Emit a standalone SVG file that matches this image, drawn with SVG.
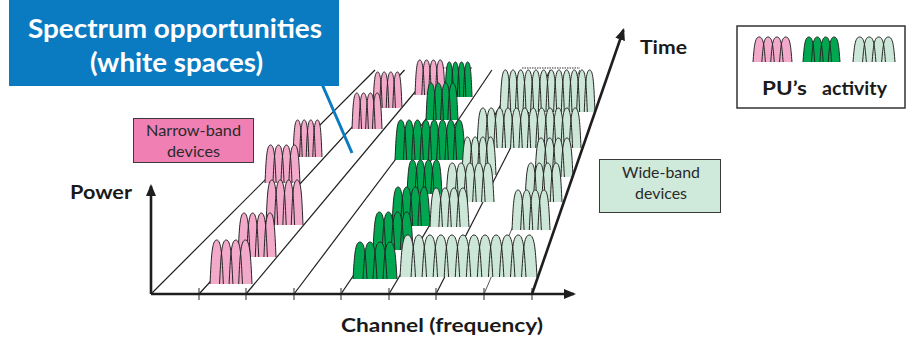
<svg xmlns="http://www.w3.org/2000/svg" width="909" height="343" viewBox="0 0 909 343">
  <style>
    .lane{stroke:#1e1e1e;stroke-width:1.2;fill:none}
    .axis{stroke:#1e1e1e;stroke-width:2.6;fill:none}
    .tick{stroke:#5a5a5a;stroke-width:1.3}
    .pk{fill:#f2a9ca}
    .dg{fill:#00a650}
    .lg{fill:#cce7d7}
    text{font-family:Lato,"Open Sans","Liberation Sans",sans-serif}
    .lbl{font-weight:700;font-size:18px;fill:#1a1a1a}
    .dev{font-size:15px;fill:#2a2a2a}
  </style>
  <defs>
    <marker id="arrow" viewBox="0 0 12 10" refX="10" refY="5" markerWidth="12" markerHeight="10" markerUnits="userSpaceOnUse" orient="auto">
      <path d="M0,0 L12,5 L0,10 z" fill="#1e1e1e"/>
    </marker>
    <!-- unit bell rows: bell width 1.4, pitch 1, height 1 -->
    <path id="b4" stroke="#262626" stroke-width="1" vector-effect="non-scaling-stroke" stroke-linejoin="round"
      d="M0,0c.14,-.62 .2,-1 .7,-1c.5,0 .56,.38 .7,1m-.4,0c.14,-.62 .2,-1 .7,-1c.5,0 .56,.38 .7,1m-.4,0c.14,-.62 .2,-1 .7,-1c.5,0 .56,.38 .7,1m-.4,0c.14,-.62 .2,-1 .7,-1c.5,0 .56,.38 .7,1"/>
    <path id="b5" stroke="#262626" stroke-width="1" vector-effect="non-scaling-stroke" stroke-linejoin="round"
      d="M0,0c.14,-.62 .2,-1 .7,-1c.5,0 .56,.38 .7,1m-.4,0c.14,-.62 .2,-1 .7,-1c.5,0 .56,.38 .7,1m-.4,0c.14,-.62 .2,-1 .7,-1c.5,0 .56,.38 .7,1m-.4,0c.14,-.62 .2,-1 .7,-1c.5,0 .56,.38 .7,1m-.4,0c.14,-.62 .2,-1 .7,-1c.5,0 .56,.38 .7,1"/>
    <path id="b8" stroke="#262626" stroke-width="1" vector-effect="non-scaling-stroke" stroke-linejoin="round"
      d="M0,0c.14,-.62 .2,-1 .7,-1c.5,0 .56,.38 .7,1m-.4,0c.14,-.62 .2,-1 .7,-1c.5,0 .56,.38 .7,1m-.4,0c.14,-.62 .2,-1 .7,-1c.5,0 .56,.38 .7,1m-.4,0c.14,-.62 .2,-1 .7,-1c.5,0 .56,.38 .7,1m-.4,0c.14,-.62 .2,-1 .7,-1c.5,0 .56,.38 .7,1m-.4,0c.14,-.62 .2,-1 .7,-1c.5,0 .56,.38 .7,1m-.4,0c.14,-.62 .2,-1 .7,-1c.5,0 .56,.38 .7,1m-.4,0c.14,-.62 .2,-1 .7,-1c.5,0 .56,.38 .7,1"/>
    <path id="b12" stroke="#262626" stroke-width="1" vector-effect="non-scaling-stroke" stroke-linejoin="round"
      d="M0,0c.14,-.62 .2,-1 .7,-1c.5,0 .56,.38 .7,1m-.4,0c.14,-.62 .2,-1 .7,-1c.5,0 .56,.38 .7,1m-.4,0c.14,-.62 .2,-1 .7,-1c.5,0 .56,.38 .7,1m-.4,0c.14,-.62 .2,-1 .7,-1c.5,0 .56,.38 .7,1m-.4,0c.14,-.62 .2,-1 .7,-1c.5,0 .56,.38 .7,1m-.4,0c.14,-.62 .2,-1 .7,-1c.5,0 .56,.38 .7,1m-.4,0c.14,-.62 .2,-1 .7,-1c.5,0 .56,.38 .7,1m-.4,0c.14,-.62 .2,-1 .7,-1c.5,0 .56,.38 .7,1m-.4,0c.14,-.62 .2,-1 .7,-1c.5,0 .56,.38 .7,1m-.4,0c.14,-.62 .2,-1 .7,-1c.5,0 .56,.38 .7,1m-.4,0c.14,-.62 .2,-1 .7,-1c.5,0 .56,.38 .7,1m-.4,0c.14,-.62 .2,-1 .7,-1c.5,0 .56,.38 .7,1"/>
  </defs>

  <rect width="909" height="343" fill="#ffffff"/>

  <!-- channel lanes receding in time -->
  <g id="connectors">
    <line class="lane" x1="151" y1="294" x2="375" y2="70"/>
    <line class="lane" x1="199" y1="294" x2="404.5" y2="70"/>
    <line class="lane" x1="246" y1="294" x2="433.4" y2="70"/>
    <line class="lane" x1="294" y1="294" x2="463" y2="70"/>
    <line class="lane" x1="341" y1="294" x2="491.9" y2="70"/>
    <line class="lane" x1="389" y1="294" x2="521.4" y2="70"/>
    <line class="lane" x1="436" y1="294" x2="550.3" y2="70"/>
    <line class="lane" x1="484" y1="294" x2="579.8" y2="70" style="stroke:#555;stroke-width:1"/>
    <line x1="443" y1="68" x2="472" y2="68" stroke="#333" stroke-width="1" stroke-dasharray="1.5 1"/>
    <line x1="522" y1="68" x2="580" y2="68" stroke="#333" stroke-width="1" stroke-dasharray="1.5 1"/>
  </g>

  <!-- spectrum occupancy, far to near -->
  <g id="activity">
    <use href="#b4" class="pk" transform="translate(415 95) scale(6.82 35)"/>
    <use href="#b4" class="dg" transform="translate(445 97) scale(6.14 35)"/>
    <use href="#b4" class="pk" transform="translate(373 108) scale(6.59 36)"/>
    <use href="#b12" class="lg" transform="translate(500 112) scale(7.66 42)"/>
    <use href="#b4" class="dg" transform="translate(426 120) scale(7.27 37)"/>
    <use href="#b4" class="pk" transform="translate(352 129) scale(6.82 36)"/>
    <use href="#b12" class="lg" transform="translate(477 148) scale(8.39 40)"/>
    <use href="#b4" class="pk" transform="translate(293 157) scale(6.59 37)"/>
    <use href="#b8" class="dg" transform="translate(395 160) scale(8.33 40)"/>
    <use href="#b4" class="lg" transform="translate(462 175) scale(7.73 38)"/>
    <use href="#b4" class="lg" transform="translate(535 177) scale(8.64 39)"/>
    <use href="#b4" class="pk" transform="translate(265 183) scale(7.95 38)"/>
    <use href="#b4" class="dg" transform="translate(407 194) scale(7.95 34)"/>
    <use href="#b5" class="lg" transform="translate(446 202) scale(8.89 39)"/>
    <use href="#b4" class="lg" transform="translate(525 202) scale(8.41 39)"/>
    <use href="#b4" class="pk" transform="translate(266 225) scale(8.41 45)"/>
    <use href="#b4" class="dg" transform="translate(392 226) scale(8.64 39)"/>
    <use href="#b4" class="lg" transform="translate(430 227) scale(8.86 39)"/>
    <use href="#b4" class="lg" transform="translate(512 230) scale(8.64 40)"/>
    <use href="#b4" class="dg" transform="translate(373 250) scale(9.09 38)"/>
    <use href="#b4" class="pk" transform="translate(238 257) scale(8.64 44)"/>
    <use href="#b12" class="lg" transform="translate(400 277) scale(11.05 42)"/>
    <use href="#b4" class="dg" transform="translate(353 279) scale(10 37)"/>
    <use href="#b4" class="pk" transform="translate(210 284) scale(9.55 44)"/>
  </g>

  <!-- axes -->
  <g id="axes">
    <line class="tick" x1="199" y1="288" x2="199" y2="300"/>
    <line class="tick" x1="246" y1="288" x2="246" y2="300"/>
    <line class="tick" x1="294" y1="288" x2="294" y2="300"/>
    <line class="tick" x1="341" y1="288" x2="341" y2="300"/>
    <line class="tick" x1="389" y1="288" x2="389" y2="300"/>
    <line class="tick" x1="436" y1="288" x2="436" y2="300"/>
    <line class="tick" x1="484" y1="288" x2="484" y2="300"/>
    <line class="tick" x1="532" y1="288" x2="532" y2="300"/>
    <line class="axis" x1="151" y1="294" x2="574" y2="294" marker-end="url(#arrow)"/>
    <line class="axis" x1="151" y1="294" x2="151" y2="186" marker-end="url(#arrow)"/>
    <line class="axis" x1="532" y1="294" x2="623.4" y2="30" marker-end="url(#arrow)"/>
    <text class="lbl" x="70" y="199" textLength="62" lengthAdjust="spacingAndGlyphs">Power</text>
    <text class="lbl" x="640" y="54" textLength="47" lengthAdjust="spacingAndGlyphs">Time</text>
    <text class="lbl" x="341" y="332" font-size="19" textLength="202" lengthAdjust="spacingAndGlyphs">Channel (frequency)</text>
  </g>

  <!-- callout -->
  <g id="white-spaces">
    <rect x="9" y="-2" width="330" height="88" fill="#0b7bc1"/>
    <line x1="322" y1="84" x2="352" y2="153" stroke="#0b7bc1" stroke-width="3"/>
    <text x="175" y="38" text-anchor="middle" font-size="27" font-weight="700" fill="#ffffff" textLength="294" lengthAdjust="spacingAndGlyphs">Spectrum opportunities</text>
    <text x="176.5" y="72" text-anchor="middle" font-size="27" font-weight="700" fill="#ffffff" textLength="173" lengthAdjust="spacingAndGlyphs">(white spaces)</text>
  </g>

  <g id="narrow-band">
    <rect x="133.5" y="118.5" width="120" height="44" fill="#f07fb4" stroke="#3a3a3a" stroke-width="1"/>
    <text class="dev" x="193.5" y="136" text-anchor="middle" textLength="95" lengthAdjust="spacingAndGlyphs">Narrow-band</text>
    <text class="dev" x="193.5" y="157" text-anchor="middle" textLength="53" lengthAdjust="spacingAndGlyphs">devices</text>
  </g>

  <g id="wide-band">
    <rect x="599.5" y="159.5" width="121" height="53" fill="#cfe9da" stroke="#3a3a3a" stroke-width="1"/>
    <text class="dev" x="661" y="178" text-anchor="middle" textLength="78" lengthAdjust="spacingAndGlyphs">Wide-band</text>
    <text class="dev" x="661" y="199" text-anchor="middle" textLength="52" lengthAdjust="spacingAndGlyphs">devices</text>
  </g>

  <g id="legend">
    <rect x="737" y="26" width="168" height="82" fill="#ffffff" stroke="#333" stroke-width="1.5"/>
    <use href="#b4" class="pk" transform="translate(753 62) scale(8.86 25)"/>
    <use href="#b4" class="dg" transform="translate(803 62) scale(8.41 25)"/>
    <use href="#b4" class="lg" transform="translate(853 62) scale(9.55 25)"/>
    <text class="lbl" y="95" font-size="19"><tspan x="762" textLength="45" lengthAdjust="spacingAndGlyphs">PU’s</tspan><tspan x="822" textLength="65" lengthAdjust="spacingAndGlyphs">activity</tspan></text>
  </g>
</svg>
